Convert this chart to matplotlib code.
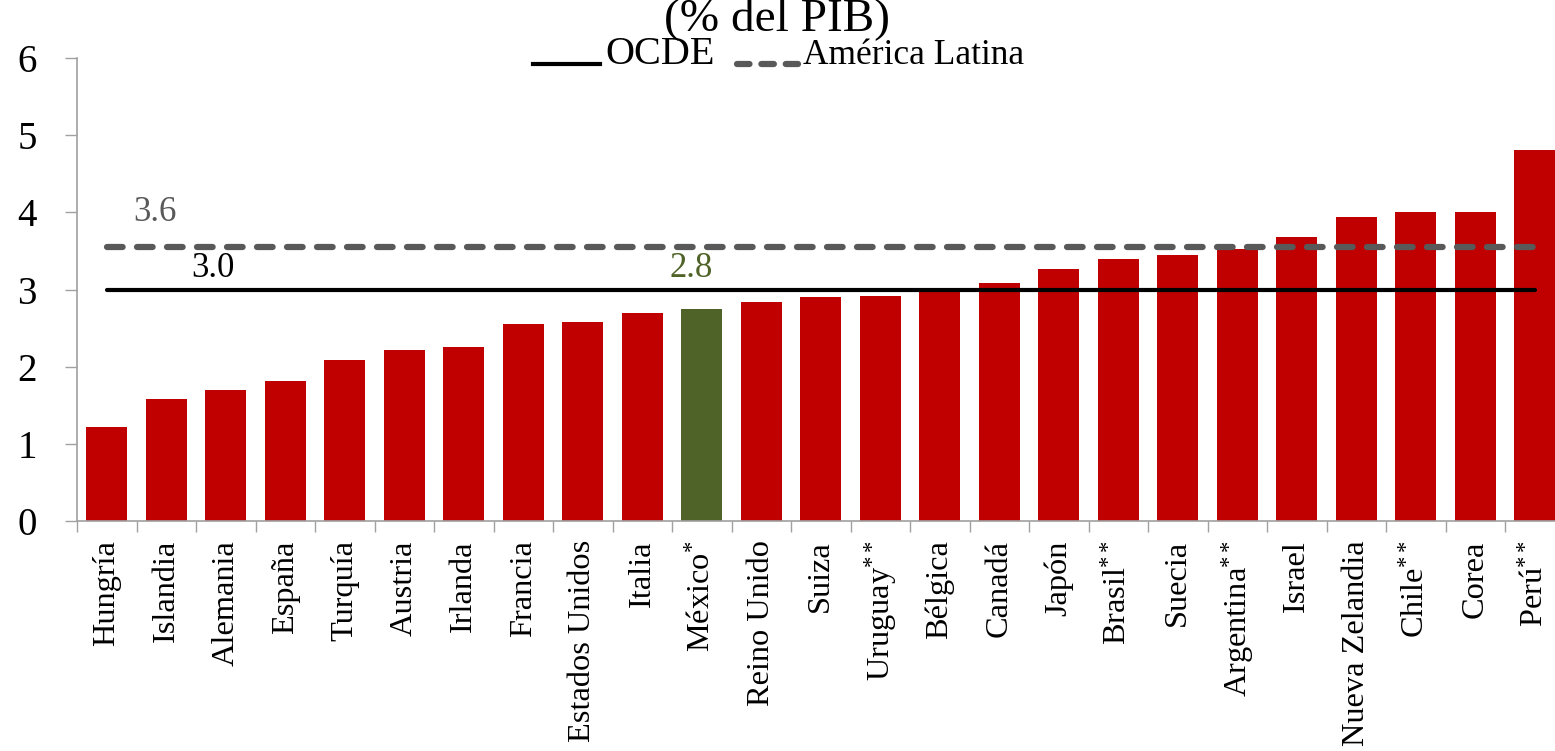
import matplotlib
matplotlib.use("Agg")
import matplotlib.pyplot as plt
from matplotlib.ticker import FixedLocator, NullFormatter

plt.rcParams['font.family'] = ['Liberation Serif', 'DejaVu Serif']
plt.rcParams['mathtext.fontset'] = 'custom'
plt.rcParams['mathtext.rm'] = 'Liberation Serif'
plt.rcParams['mathtext.it'] = 'Liberation Serif'

countries = ["Hungría", "Islandia", "Alemania", "España", "Turquía", "Austria",
             "Irlanda", "Francia", "Estados Unidos", "Italia", r"México$^{*}$",
             "Reino Unido", "Suiza", r"Uruguay$^{**}$", "Bélgica", "Canadá",
             "Japón", r"Brasil$^{**}$", "Suecia", r"Argentina$^{**}$", "Israel",
             "Nueva Zelandia", r"Chile$^{**}$", "Corea", r"Perú$^{**}$"]
values = [1.21, 1.58, 1.69, 1.81, 2.09, 2.21, 2.26, 2.55, 2.58, 2.69, 2.75,
          2.84, 2.90, 2.91, 3.01, 3.09, 3.27, 3.40, 3.45, 3.52, 3.68, 3.94,
          4.00, 4.00, 4.81]
highlight = "México"
ocde = 3.0
america_latina = 3.55
ocde_label = "3.0"
al_label = "3.6"
mexico_label = "2.8"
yticks = [0, 1, 2, 3, 4, 5, 6]

RED = "#C00000"
GREEN = "#4F6228"
GRAY = "#595959"

fig = plt.figure(figsize=(15.55, 7.51), dpi=100)
ax = fig.add_axes([77/1555, 1 - 520.7/751, 25*59.5/1555, (520.7-58.3)/751])

x = list(range(len(countries)))
colors = [GREEN if c.startswith(highlight) else RED for c in countries]
ax.bar(x, values, width=0.69, color=colors, zorder=2)

n = len(countries)
ax.plot([0, n - 1], [ocde, ocde], color="black", lw=3.0, solid_capstyle="round", zorder=3)
ax.plot([0, n - 1], [america_latina, america_latina], color=GRAY, lw=4.5,
        dashes=(2.5, 2.3), dash_capstyle="round", zorder=3)

ax.text(0.81, 4.0, al_label, color=GRAY, fontsize=25, ha="center", va="center")
ax.text(1.78, 3.27, ocde_label, color="black", fontsize=25, ha="center", va="center")
mi = [i for i, c in enumerate(countries) if c.startswith(highlight)][0]
ax.text(mi - 0.17, 3.27, mexico_label, color=GREEN, fontsize=25, ha="center", va="center")

ax.set_xlim(-0.5, n - 0.5)
ax.set_ylim(0, 6)
ax.set_yticks(yticks)
ax.set_yticklabels([str(t) for t in yticks], fontsize=28)
ax.tick_params(axis="y", direction="out", length=9, width=1, color="#A0A0A0", pad=20)

ax.set_xticks(x)
ax.set_xticklabels(countries, rotation=90, fontsize=23.3, va="top", ha="center")
ax.xaxis.set_minor_locator(FixedLocator([i - 0.5 for i in range(n + 1)]))
ax.xaxis.set_minor_formatter(NullFormatter())
ax.tick_params(axis="x", which="major", length=0, pad=14)
ax.tick_params(axis="x", which="minor", direction="out", length=8, width=1, color="#A0A0A0")

for s in ["top", "right"]:
    ax.spines[s].set_visible(False)
for s in ["left", "bottom"]:
    ax.spines[s].set_color("#A0A0A0")
    ax.spines[s].set_linewidth(1.2)

# title and legend at top
fig.text(777/1555, 1 - 30/751, "(% del PIB)", fontsize=34, ha="center", va="baseline")
fig.lines.append(plt.Line2D([533/1555, 600/1555], [1 - 64/751, 1 - 64/751],
                            transform=fig.transFigure, color="black", lw=3.0))
fig.text(605/1555, 1 - 64/751, "OCDE", fontsize=29, ha="left", va="baseline")
fig.lines.append(plt.Line2D([737/1555, 798/1555], [1 - 64/751, 1 - 64/751],
                            transform=fig.transFigure, color=GRAY, lw=4.5,
                            dashes=(2.0, 1.9), dash_capstyle="round"))
fig.text(803/1555, 1 - 64/751, "América Latina", fontsize=25.5, ha="left", va="baseline")

fig.savefig("out.png", dpi=100)
